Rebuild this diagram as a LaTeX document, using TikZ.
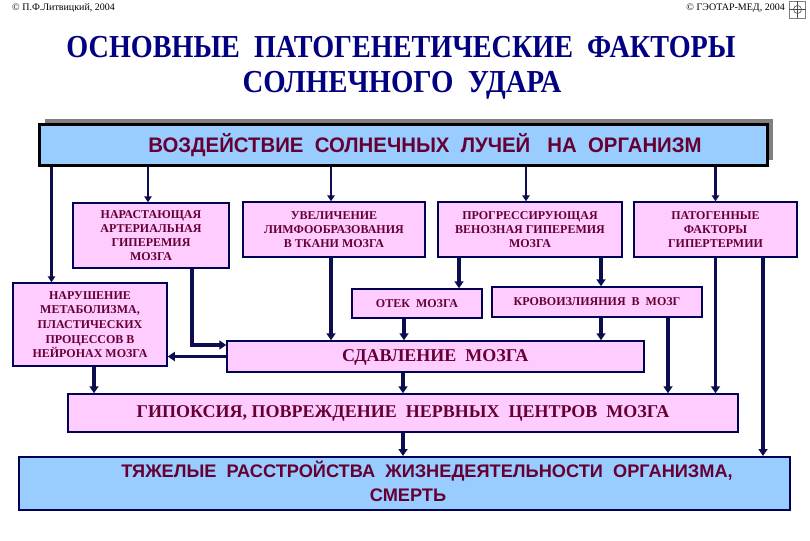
\documentclass[tikz,border=0pt]{standalone}
\usepackage{fontspec}
\setmainfont{Liberation Serif}
\newfontfamily\sansf{Liberation Sans}
\usetikzlibrary{arrows.meta,calc}
\definecolor{pinkbox}{HTML}{FFCCFF}
\definecolor{bluebox}{HTML}{99CCFF}
\definecolor{navy}{HTML}{000055}
\definecolor{arrowc}{HTML}{0C0C50}
\definecolor{txt}{HTML}{660033}
\definecolor{titlec}{HTML}{000080}
\definecolor{shadowc}{HTML}{808080}
\begin{document}
\begin{tikzpicture}[x=1pt,y=-1pt,
  pbox/.style={draw=navy,line width=1.5pt,fill=pinkbox,inner sep=0pt,align=center,
    text=txt,font=\bfseries\fontsize{12}{14}\selectfont},
  bbox/.style={draw=navy,line width=2pt,fill=bluebox,inner sep=0pt},
  ttl/.style={inner sep=0pt,text=titlec,font=\bfseries\fontsize{32}{36}\selectfont},
  small/.style={inner sep=0pt,font=\fontsize{10}{11}\selectfont},
  sanstxt/.style={inner sep=0pt,text=txt,font=\sansf\bfseries\fontsize{21}{24}\selectfont},
  arr/.style={draw=arrowc,line width=3.5pt,-{Triangle[length=7pt,width=9pt]}},
  arrt/.style={draw=arrowc,line width=2.5pt,-{Triangle[length=6pt,width=7.5pt]}}
]
\useasboundingbox[fill=white] (0,0) rectangle (810,540);

% header
\node[small,anchor=west] (authl) at (12,8) {© П.Ф.Литвицкий, 2004};
\node[small,anchor=east] (authr) at (785,8) {© ГЭОТАР-МЕД, 2004};
\node[draw=gray,line width=0.6pt,fill=white,minimum width=16pt,minimum height=17pt,inner sep=0pt] (logo) at (797.5,9.5) {};
\draw[gray!60!black,line width=0.7pt] (logo.north) -- (logo.south) (logo.west) -- (logo.east);
\draw[gray!60!black,line width=0.6pt] (logo.center) circle (4pt);

% title
\node[ttl] (t1) at (401,47) {\scalebox{0.88}[1]{ОСНОВНЫЕ\ \ ПАТОГЕНЕТИЧЕСКИЕ\ \ ФАКТОРЫ}};
\node[ttl] (t2) at (402,85) {\scalebox{0.9}[1]{СОЛНЕЧНОГО\ \ УДАРА}};

% top bar
\fill[shadowc] (45,119) rectangle (773,160);
\node[draw=black,line width=3pt,fill=bluebox,inner sep=0pt,minimum width=728pt,minimum height=41pt] (bar) at (403,145.5) {};
\node[sanstxt] (bartxt) at (425,145) {\scalebox{0.97}[1]{ВОЗДЕЙСТВИЕ\ \ СОЛНЕЧНЫХ\ \ ЛУЧЕЙ\ \ \ НА\ \ ОРГАНИЗМ}};

% first row
\node[pbox,minimum width=156pt,minimum height=65pt] (nar) at (151,235.5)
  {НАРАСТАЮЩАЯ\\АРТЕРИАЛЬНАЯ\\ГИПЕРЕМИЯ\\МОЗГА};
\node[pbox,minimum width=182pt,minimum height=55pt] (uvel) at (334,229.5)
  {УВЕЛИЧЕНИЕ\\ЛИМФООБРАЗОВАНИЯ\\В ТКАНИ МОЗГА};
\node[pbox,minimum width=184pt,minimum height=55pt] (prog) at (530,229.5)
  {ПРОГРЕССИРУЮЩАЯ\\ВЕНОЗНАЯ ГИПЕРЕМИЯ\\МОЗГА};
\node[pbox,minimum width=163pt,minimum height=55pt] (pat) at (715.5,229.5)
  {ПАТОГЕННЫЕ\\ФАКТОРЫ\\ГИПЕРТЕРМИИ};

% second row
\node[pbox,minimum width=154pt,minimum height=83pt,font=\bfseries\fontsize{12}{14.7}\selectfont] (narush) at (90,324.5)
  {НАРУШЕНИЕ\\МЕТАБОЛИЗМА,\\ПЛАСТИЧЕСКИХ\\ПРОЦЕССОВ В\\НЕЙРОНАХ МОЗГА};
\node[pbox,minimum width=130pt,minimum height=29pt] (otek) at (417,303.5) {ОТЕК\ \ МОЗГА};
\node[pbox,minimum width=210pt,minimum height=30pt] (krov) at (597,302) {КРОВОИЗЛИЯНИЯ\ \ В\ \ МОЗГ};
\node[pbox,minimum width=417pt,minimum height=31pt] (sdav) at (435.5,356.5) {};
\node[inner sep=0pt,text=txt,font=\bfseries\fontsize{18}{20}\selectfont,anchor=west] (sdavtxt) at (342,357) {СДАВЛЕНИЕ\ \ МОЗГА};

% third row
\node[pbox,minimum width=670pt,minimum height=38pt,font=\bfseries\fontsize{18}{20}\selectfont] (gip) at (403,413)
  {ГИПОКСИЯ, ПОВРЕЖДЕНИЕ\ \ НЕРВНЫХ\ \ ЦЕНТРОВ\ \ МОЗГА};

% final
\node[bbox,minimum width=771pt,minimum height=53pt] (fin) at (404.5,483.5) {};
\node[sanstxt,font=\sansf\bfseries\fontsize{18.2}{22}\selectfont] (fin1) at (427,471) {ТЯЖЕЛЫЕ\ \ РАССТРОЙСТВА\ \ ЖИЗНЕДЕЯТЕЛЬНОСТИ\ \ ОРГАНИЗМА,};
\node[sanstxt,font=\sansf\bfseries\fontsize{18.2}{22}\selectfont] (fin2) at (408,495) {СМЕРТЬ};

% connectors from top bar
\draw[arrt] ([xshift=14pt]bar.south west) -- ([xshift=14pt]bar.south west |- narush.north);
\draw[arrt] ([xshift=-3pt]nar.north |- bar.south) -- ([xshift=-3pt]nar.north);
\draw[arrt] ([xshift=-3pt]uvel.north |- bar.south) -- ([xshift=-3pt]uvel.north);
\draw[arrt] ([xshift=-4pt]prog.north |- bar.south) -- ([xshift=-4pt]prog.north);
\draw[arrt] (pat.north |- bar.south) -- (pat.north);

% inner connectors
\draw[arr] ([xshift=41pt]nar.south) |- ([yshift=11.5pt]sdav.west);
\draw[arr] ([xshift=-3pt]uvel.south) -- ([xshift=-3pt]uvel.south |- sdav.north);
\draw[arr] ([xshift=-71pt]prog.south) -- ([xshift=-71pt]prog.south |- otek.north);
\draw[arr] ([xshift=71pt]prog.south) -- ([xshift=71pt]prog.south |- krov.north);
\draw[arr] ([xshift=-13pt]otek.south) -- ([xshift=-13pt]otek.south |- sdav.north);
\draw[arr] ([xshift=4pt]krov.south) -- ([xshift=4pt]krov.south |- sdav.north);
\draw[arr] (sdav.west) -- (sdav.west -| narush.east);
\draw[arr] ([xshift=4pt]narush.south) -- ([xshift=4pt]narush.south |- gip.north);
\draw[arr] (gip.north |- sdav.south) -- (gip.north);
\draw[arr] ([xshift=71pt]krov.south) -- ([xshift=71pt]krov.south |- gip.north);
\draw[arr] (pat.south) -- (pat.south |- gip.north);
\draw[arr] ([xshift=47.5pt]pat.south) -- ([xshift=47.5pt]pat.south |- fin.north);
\draw[arr] (gip.south) -- (gip.south |- fin.north);
\end{tikzpicture}
\end{document}
